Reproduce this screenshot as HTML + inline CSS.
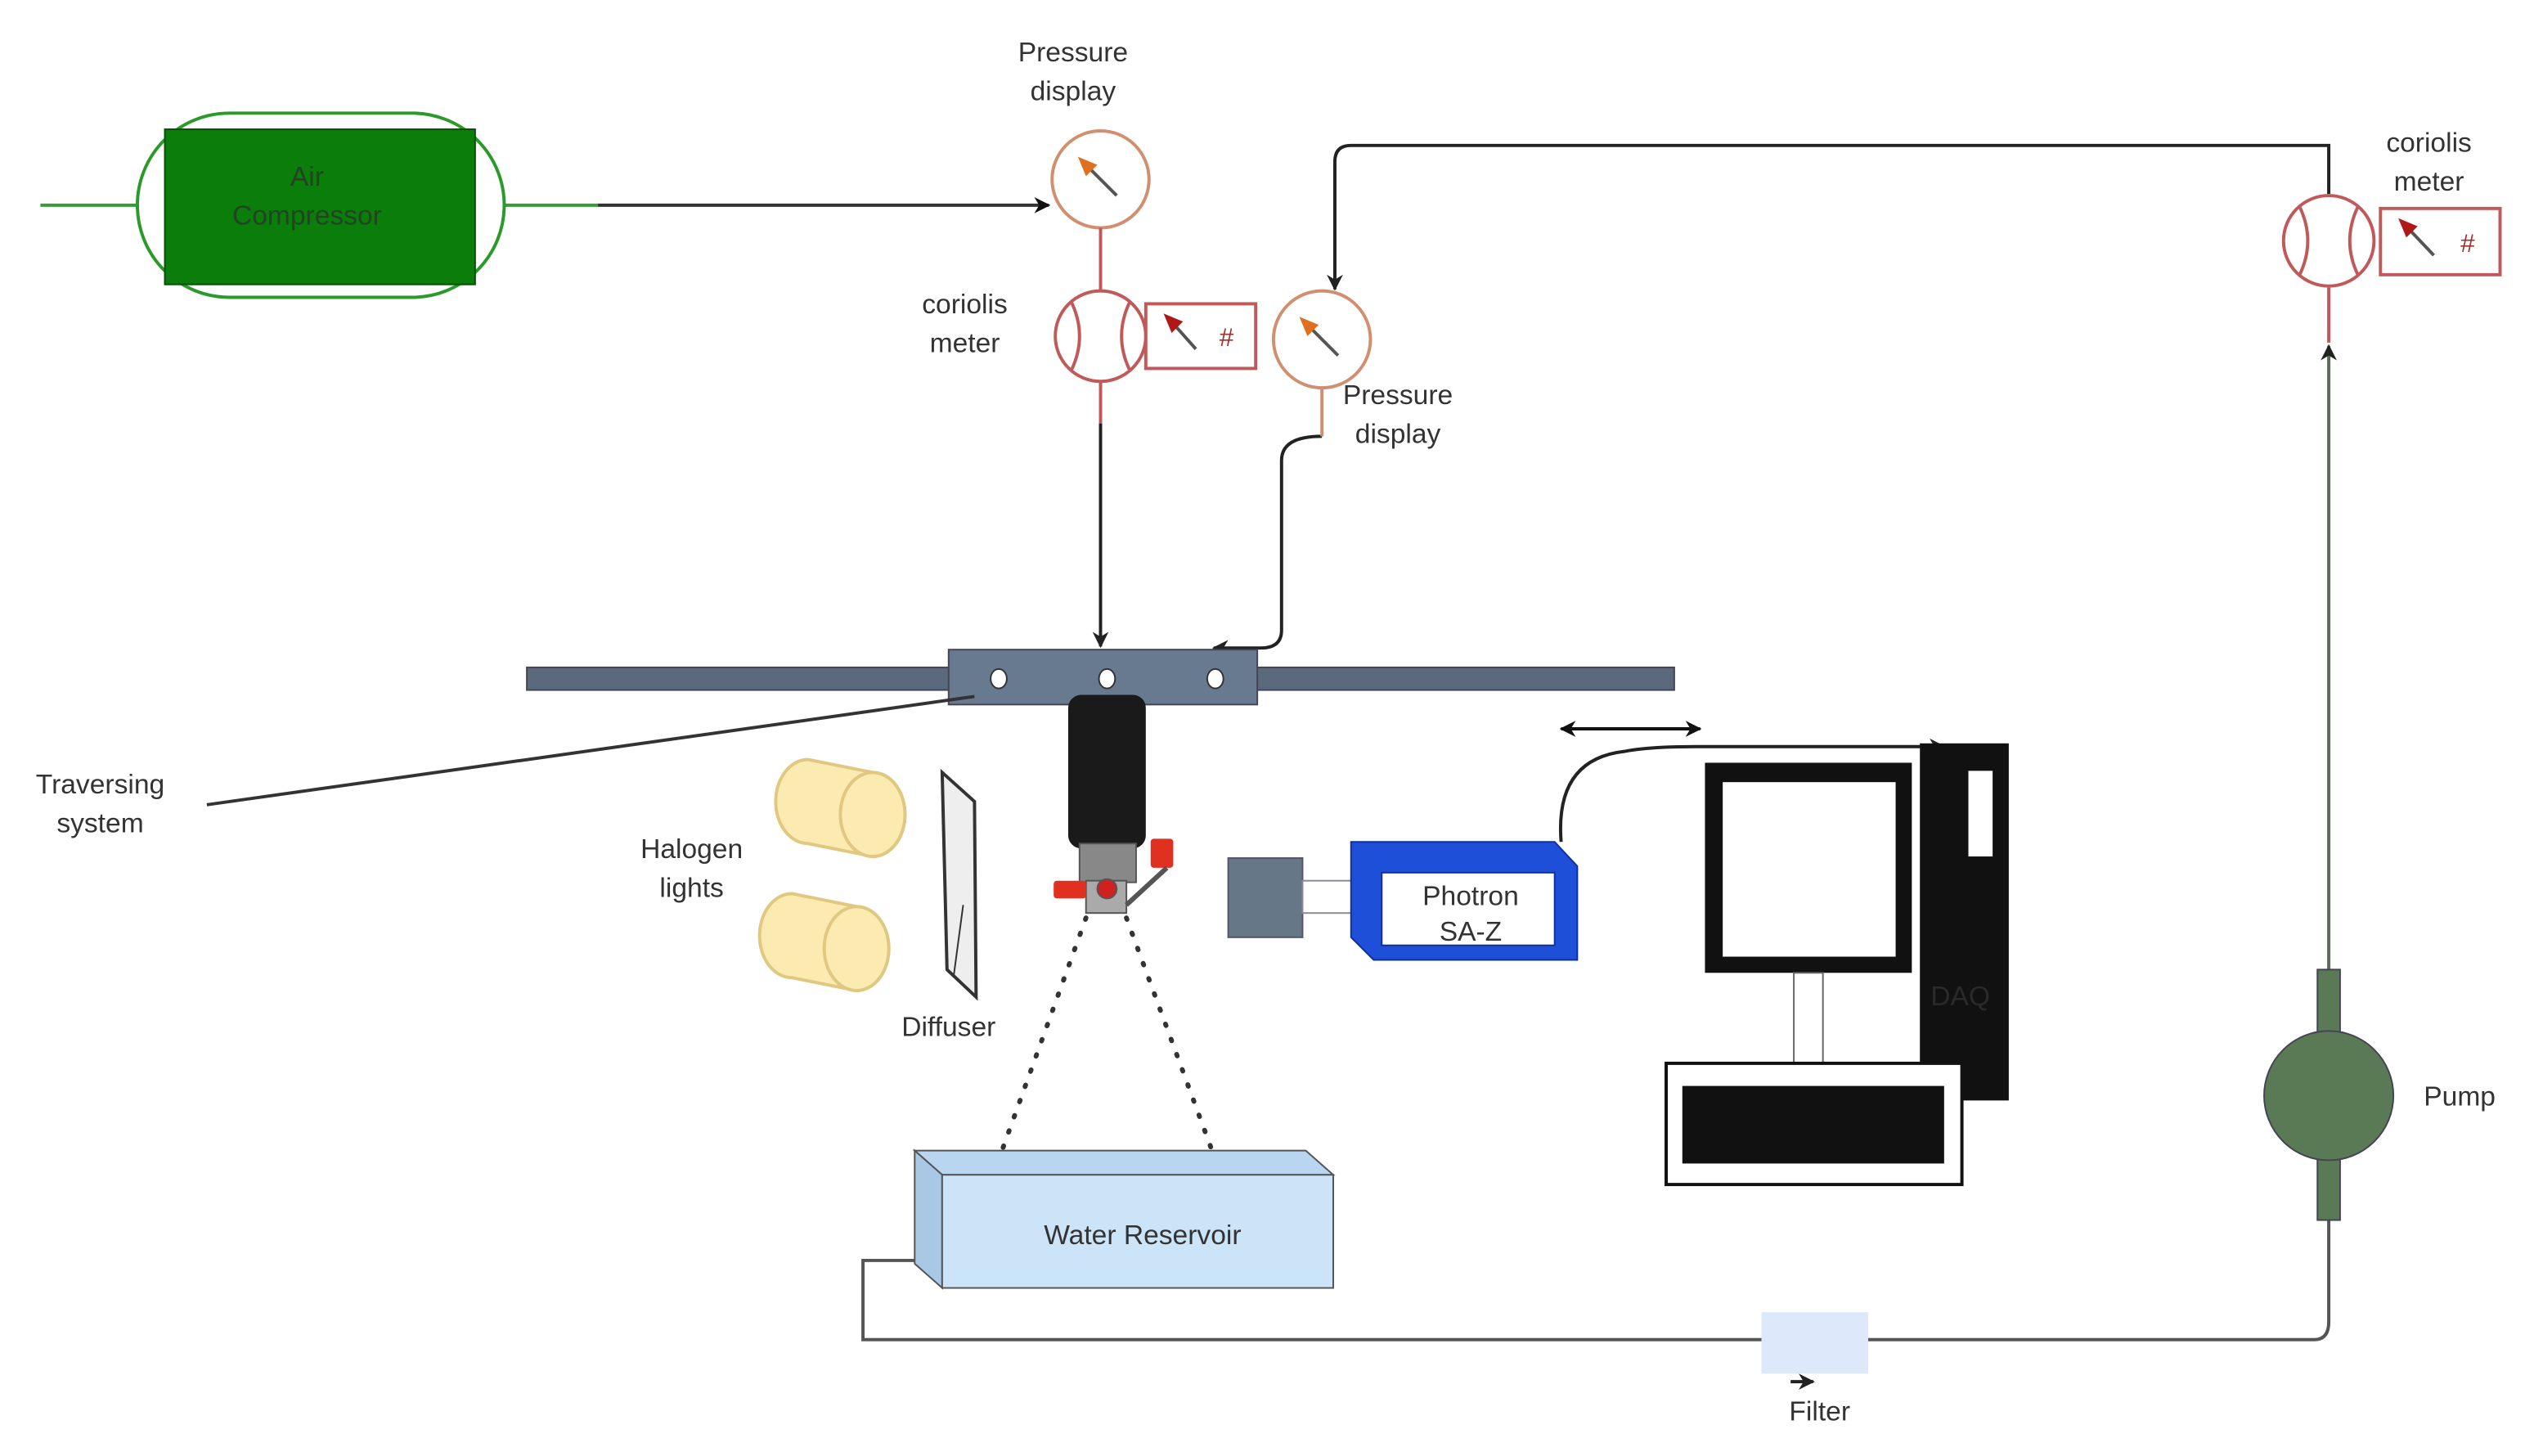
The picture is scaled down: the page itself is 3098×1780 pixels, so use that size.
<!DOCTYPE html>
<html><head><meta charset="utf-8"><style>html,body{margin:0;padding:0;background:#fff}svg{display:block}text{font-family:"Liberation Sans",sans-serif;fill:#333;font-size:17px;text-anchor:middle}</style></head>
<body>
<svg width="3098" height="1780" viewBox="0 0 1568 901" preserveAspectRatio="none" xmlns="http://www.w3.org/2000/svg">
<defs>
<marker id="a" markerWidth="10" markerHeight="10" refX="9" refY="5" orient="auto" markerUnits="userSpaceOnUse"><path d="M0,0 L10,5 L0,10 L3,5z" fill="#111"/></marker>
<marker id="g" markerWidth="10" markerHeight="10" refX="9" refY="5" orient="auto" markerUnits="userSpaceOnUse"><path d="M0,0 L10,5 L0,10 L3,5z" fill="#222"/></marker>
<g id="cor"><circle r="28" fill="#fff" stroke="#c05a5a" stroke-width="2"/><path d="M-18,-21 Q-8,0 -18,21 M18,-21 Q8,0 18,21" fill="none" stroke="#c05a5a" stroke-width="2"/></g>
<g id="pd"><circle r="30" fill="#fff" stroke="#d09070" stroke-width="2"/><line x1="-12" y1="-12" x2="10" y2="10" stroke="#555" stroke-width="2"/><path d="M-14,-14 L-2,-9 L-9,-2z" fill="#e07020"/></g>
</defs>
<line x1="25" y1="127" x2="85" y2="127" stroke="#3a9a3a" stroke-width="2"/>
<line x1="312" y1="127" x2="370" y2="127" stroke="#3a9a3a" stroke-width="2"/>
<line x1="370" y1="127" x2="649" y2="127" stroke="#333" stroke-width="2" marker-end="url(#a)"/>
<rect x="85" y="70" width="227" height="114" rx="57" fill="#fff" stroke="#2a9a2a" stroke-width="2"/>
<rect x="102" y="80" width="192" height="96" fill="#0a7d0a" stroke="#065006"/>
<text x="190" y="115" style="fill:#224422">Air</text>
<text x="190" y="139" style="fill:#224422">Compressor</text>
<text x="664" y="38">Pressure</text><text x="664" y="62">display</text>
<use href="#pd" x="681" y="111"/>
<line x1="681" y1="141" x2="681" y2="180" stroke="#c05a5a" stroke-width="2"/>
<use href="#cor" x="681" y="208"/>
<rect x="709" y="188" width="68" height="40" fill="#fff" stroke="#c05a5a" stroke-width="2"/>
<line x1="724" y1="198" x2="740" y2="216" stroke="#555" stroke-width="2"/><path d="M720,194 L732,199 L725,206z" fill="#b01818"/>
<text x="759" y="214" style="fill:#a03030;font-size:16px">#</text>
<text x="597" y="194">coriolis</text><text x="597" y="218">meter</text>
<line x1="681" y1="236" x2="681" y2="262" stroke="#c05a5a" stroke-width="2"/>
<line x1="681" y1="262" x2="681" y2="400" stroke="#222" stroke-width="2" marker-end="url(#g)"/>
<use href="#pd" x="818" y="210"/>
<path d="M818,270 Q793,270 793,285 V390 Q793,401 780,401 H751" fill="none" stroke="#222" stroke-width="2" marker-end="url(#g)"/>
<line x1="818" y1="240" x2="818" y2="270" stroke="#d09070" stroke-width="2"/>
<text x="865" y="250">Pressure</text><text x="865" y="274">display</text>
<path d="M1441,120 V90 H836 Q826,90 826,100 V179" fill="none" stroke="#222" stroke-width="2" marker-end="url(#g)"/>
<use href="#cor" x="1441" y="149"/>
<rect x="1473" y="129" width="74" height="41" fill="#fff" stroke="#c05a5a" stroke-width="2"/>
<line x1="1488" y1="139" x2="1506" y2="158" stroke="#555" stroke-width="2"/><path d="M1484,135 L1496,140 L1489,147z" fill="#b01818"/>
<text x="1527" y="156" style="fill:#a03030;font-size:16px">#</text>
<text x="1503" y="94">coriolis</text><text x="1503" y="118">meter</text>
<line x1="1441" y1="178" x2="1441" y2="212" stroke="#c05a5a" stroke-width="2"/>
<line x1="1441" y1="600" x2="1441" y2="214" stroke="#5a6a5a" stroke-width="2" marker-end="url(#g)"/>
<rect x="326" y="413" width="710" height="14" fill="#5a6a7c" stroke="#445"/>
<rect x="587" y="402" width="191" height="34" fill="#687a90" stroke="#445"/>
<ellipse cx="618" cy="420" rx="5" ry="6" fill="#fff" stroke="#333"/>
<ellipse cx="685" cy="420" rx="5" ry="6" fill="#fff" stroke="#333"/>
<ellipse cx="752" cy="420" rx="5" ry="6" fill="#fff" stroke="#333"/>
<line x1="128" y1="498" x2="603" y2="431" stroke="#333" stroke-width="2"/>
<text x="62" y="491">Traversing</text><text x="62" y="515">system</text>
<rect x="661" y="430" width="48" height="95" rx="8" fill="#1a1a1a"/>
<rect x="668" y="522" width="35" height="24" fill="#888" stroke="#555"/>
<rect x="672" y="545" width="25" height="20" fill="#aaa" stroke="#555"/>
<rect x="652" y="545" width="20" height="11" rx="2" fill="#e03020"/>
<rect x="712" y="519" width="14" height="18" rx="2" fill="#e03020"/>
<line x1="697" y1="560" x2="722" y2="537" stroke="#555" stroke-width="3"/>
<circle cx="685" cy="550" r="6" fill="#d02020" stroke="#555"/>
<line x1="672" y1="568" x2="620" y2="712" stroke="#333" stroke-width="3" stroke-dasharray="1 9" stroke-linecap="round"/>
<line x1="697" y1="568" x2="750" y2="712" stroke="#333" stroke-width="3" stroke-dasharray="1 9" stroke-linecap="round"/>
<g fill="#fcebb0" stroke="#e0c880" stroke-width="2">
<path d="M500,470 L540,478 A20,26 0 0 1 540,530 L500,522 A20,26 0 0 1 500,470z"/><ellipse cx="540" cy="504" rx="20" ry="26"/>
<path d="M490,553 L530,561 A20,26 0 0 1 530,613 L490,605 A20,26 0 0 1 490,553z"/><ellipse cx="530" cy="587" rx="20" ry="26"/>
</g>
<text x="428" y="531">Halogen</text><text x="428" y="555">lights</text>
<path d="M583,478 L603,496 L604,617 L586,600z" fill="#eee" stroke="#333" stroke-width="2"/>
<line x1="596" y1="560" x2="590" y2="605" stroke="#333"/>
<text x="587" y="641">Diffuser</text>
<path d="M566,712 L808,712 L825,727 L583,727z" fill="#b8d6ef" stroke="#555"/>
<path d="M566,712 L583,727 L583,797 L566,782z" fill="#a8c8e6" stroke="#555"/>
<rect x="583" y="727" width="242" height="70" fill="#cce4f7" stroke="#555"/>
<text x="707" y="770">Water Reservoir</text>
<path d="M566,780 H534 V829 H1090 M1156,829 H1432 Q1441,829 1441,818 V755" fill="none" stroke="#555" stroke-width="2"/>
<rect x="1090" y="812" width="66" height="38" fill="#dde8fa"/>
<line x1="1108" y1="855" x2="1122" y2="855" stroke="#222" stroke-width="2" marker-end="url(#g)"/>
<text x="1126" y="879">Filter</text>
<rect x="1434" y="600" width="14" height="40" fill="#5a7a55" stroke="#445"/>
<rect x="1434" y="715" width="14" height="40" fill="#5a7a55" stroke="#445"/>
<circle cx="1441" cy="678" r="40" fill="#5a7a55" stroke="#445"/>
<text x="1522" y="684">Pump</text>
<rect x="760" y="531" width="46" height="49" fill="#667788" stroke="#556"/>
<rect x="806" y="545" width="34" height="20" fill="#fff" stroke="#889"/>
<path d="M836,521 L962,521 L976,536 L976,594 L850,594 L836,580z" fill="#1e4fd8" stroke="#1030a0"/>
<rect x="855" y="540" width="107" height="45" fill="#fff" stroke="#1030a0"/>
<text x="910" y="560">Photron</text><text x="910" y="582">SA-Z</text>
<line x1="970" y1="451" x2="1052" y2="451" stroke="#111" stroke-width="2" marker-end="url(#a)"/>
<line x1="1050" y1="451" x2="966" y2="451" stroke="#111" stroke-width="2" marker-end="url(#a)"/>
<path d="M966,521 Q962,470 1005,465 Q1020,462 1050,462 H1203" fill="none" stroke="#222" stroke-width="2" marker-end="url(#g)"/>
<rect x="1188" y="460" width="55" height="221" fill="#111"/>
<rect x="1218" y="477" width="15" height="53" fill="#fff"/>
<text x="1213" y="622" style="fill:#2a2a2a">DAQ</text>
<rect x="1055" y="472" width="128" height="130" fill="#111"/>
<rect x="1066" y="484" width="107" height="108" fill="#fff"/>
<rect x="1110" y="602" width="18" height="58" fill="#fff" stroke="#666"/>
<rect x="1031" y="658" width="183" height="75" fill="#fff" stroke="#111" stroke-width="2"/>
<rect x="1041" y="672" width="162" height="48" fill="#111"/>
</svg>
</body></html>
